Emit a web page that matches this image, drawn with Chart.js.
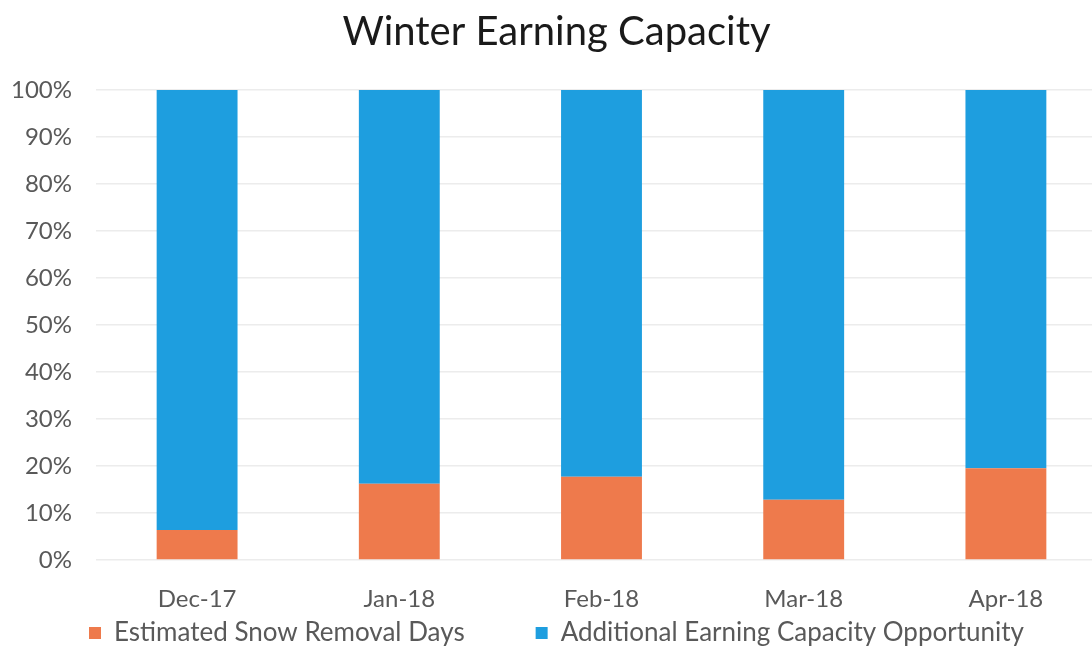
<!DOCTYPE html>
<html>
<head>
<meta charset="utf-8">
<script src="https://cdn.jsdelivr.net/npm/chart.js@4/dist/chart.umd.min.js"></script>
<style>
    html, body { margin: 0; padding: 0; background: #fff; overflow: hidden; }
    #wrap { width: 1092px; height: 650px; overflow: hidden; }
</style>
</head>
<body>
<div id="wrap"><canvas id="winterChart" width="1110" height="660"></canvas></div>
<script>
// Dados do gráfico
const meses = ['Dec-17', 'Jan-18', 'Feb-18', 'Mar-18', 'Apr-18'];
const diasNeve = [6.4, 16.2, 17.7, 12.8, 19.5];
const capacidadeExtra = [93.6, 83.8, 82.3, 87.2, 80.5];

const corLaranja = '#EE7A4C';
const corAzul = '#1E9EDF';
const corTexto = '#595959';

const ctx = document.getElementById('winterChart').getContext('2d');

new Chart(ctx, {
    type: 'bar',
    data: {
        labels: meses,
        datasets: [
            {
                label: 'Estimated Snow Removal Days',
                data: diasNeve,
                backgroundColor: corLaranja,
                barPercentage: 0.8,
                categoryPercentage: 0.5
            },
            {
                label: 'Additional Earning Capacity Opportunity',
                data: capacidadeExtra,
                backgroundColor: corAzul,
                barPercentage: 0.8,
                categoryPercentage: 0.5
            }
        ]
    },
    options: {
        responsive: false,
        animation: false,
        layout: {
            // o canvas é um pouco maior que a janela: a área do gráfico passa da borda direita
            padding: { left: 6, right: 3, top: 2, bottom: 4 }
        },
        scales: {
            x: {
                stacked: true,
                grid: { display: false, drawTicks: false },
                border: { display: false },
                afterFit: function(scale) {
                    scale.height = 54;
                },
                ticks: {
                    color: corTexto,
                    font: { family: 'Lato, sans-serif', size: 24 },
                    padding: 25
                }
            },
            y: {
                stacked: true,
                min: 0,
                max: 100,
                border: { display: false },
                grid: { color: '#ececec', lineWidth: 1.5, drawTicks: false },
                afterFit: function(scale) {
                    scale.width = 90;
                },
                ticks: {
                    stepSize: 10,
                    color: corTexto,
                    font: { family: 'Lato, sans-serif', size: 24 },
                    padding: 24,
                    callback: function(value) {
                        return value + '%';
                    }
                }
            }
        },
        plugins: {
            title: {
                display: true,
                text: 'Winter Earning Capacity',
                color: '#1a1a1a',
                font: { family: 'Lato, sans-serif', size: 40, weight: 'normal' },
                padding: { top: 6, bottom: 34 }
            },
            legend: {
                position: 'bottom',
                labels: {
                    color: corTexto,
                    font: { family: 'Lato, sans-serif', size: 26 },
                    boxWidth: 12,
                    boxHeight: 12,
                    padding: 6,
                    generateLabels: function(chart) {
                        const itens = Chart.defaults.plugins.legend.labels.generateLabels(chart);
                        // espaço extra entre as duas entradas da legenda
                        itens[0].text = itens[0].text + '\u2002\u2002\u2002\u2002\u2002';
                        return itens;
                    }
                }
            },
            tooltip: { enabled: false }
        }
    }
});
</script>
</body>
</html>
